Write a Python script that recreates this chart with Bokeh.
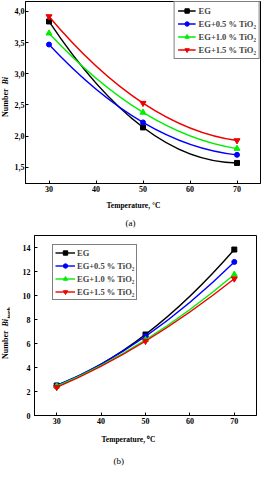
import numpy as np
from math import pi
from bokeh.plotting import figure
from bokeh.models import Range1d, FixedTicker, Label, Legend, LegendItem, Title
from bokeh.layouts import column, row
from bokeh.embed import file_html
from bokeh.resources import INLINE

# ---------------- data ----------------
temps = [30, 50, 70]
series_names = ["EG", "EG+0.5 % TiO\u2082", "EG+1.0 % TiO\u2082", "EG+1.5 % TiO\u2082"]
colors = ["#000000", "#0000ff", "#00ee00", "#ee0000"]
markers = ["square", "circle", "triangle", "inverted_triangle"]

bi_eg = [3.84, 2.14, 1.57]
bi_05 = [3.47, 2.22, 1.70]
bi_10 = [3.65, 2.38, 1.80]
bi_15 = [3.92, 2.53, 1.93]

biturb_eg = [2.50, 6.75, 13.83]
biturb_05 = [2.50, 6.60, 12.80]
biturb_10 = [2.45, 6.30, 11.75]
biturb_15 = [2.35, 6.20, 11.40]

x_ticks = [30, 40, 50, 60, 70]
y_ticks_a = [1.5, 2.0, 2.5, 3.0, 3.5, 4.0]
y_labels_a = ["1,5", "2,0", "2,5", "3,0", "3,5", "4,0"]
y_ticks_b = [0, 2, 4, 6, 8, 10, 12, 14]

SERIF = "Liberation Serif"
YW = 10  # width of the strip holding the rotated y title


def style_axes(p):
    for ax in (p.xaxis[0], p.yaxis[0]):
        ax.axis_line_color = "black"
        ax.major_tick_in = 3
        ax.major_tick_out = 0
        ax.minor_tick_in = 0
        ax.minor_tick_out = 0
        ax.major_tick_line_color = "black"
        ax.major_label_text_font = SERIF
        ax.major_label_text_font_style = "bold"
        ax.major_label_text_font_size = "8px"
        ax.major_label_text_color = "black"
        ax.major_label_standoff = 2
    p.xgrid.visible = False
    p.ygrid.visible = False
    p.outline_line_color = "black"
    p.outline_line_alpha = 1.0
    p.outline_line_width = 1
    p.background_fill_color = "white"
    p.border_fill_color = "white"


def add_series(p, xs, ys, color, marker, size):
    cx = 2 * xs[1] - (xs[0] + xs[2]) / 2
    cy = 2 * ys[1] - (ys[0] + ys[2]) / 2
    q = p.quadratic(x0=[xs[0]], y0=[ys[0]], x1=[xs[2]], y1=[ys[2]],
                    cx=[cx], cy=[cy], line_color=color, line_width=1.4)
    s = p.scatter(xs, ys, marker=marker, size=size, fill_color=color,
                  line_color=color)
    return [q, s]


def txt(p, x, y, text, size, style="bold", angle=0.0, align="center"):
    p.add_layout(Label(x=x, y=y, x_units="canvas", y_units="canvas", text=text,
                       angle=angle, text_align=align, text_baseline="middle",
                       text_font=SERIF, text_font_style=style,
                       text_font_size=size, text_color="black"))


def title_below(p, text, size, style, offset, standoff):
    p.add_layout(Title(text=text, align="left", offset=offset, standoff=standoff,
                       text_font=SERIF, text_font_style=style,
                       text_font_size=size, text_color="black"), "below")


def strip(h):
    s = figure(width=YW, height=h, output_backend="svg", toolbar_location=None,
               x_axis_type=None, y_axis_type=None, min_border=0,
               x_range=Range1d(0, 1), y_range=Range1d(0, 1))
    s.outline_line_color = None
    s.background_fill_color = "white"
    s.border_fill_color = "white"
    return s


# ---------------- chart (a) ----------------
p1 = figure(width=263 - YW, height=232, output_backend="svg", toolbar_location=None,
            x_range=Range1d(25, 75), y_range=Range1d(1.24, 4.16),
            min_border_left=25 - YW, min_border_right=3, min_border_top=1,
            min_border_bottom=49)
style_axes(p1)
p1.xaxis.ticker = FixedTicker(ticks=x_ticks)
p1.yaxis.ticker = FixedTicker(ticks=y_ticks_a)
p1.yaxis.major_label_overrides = dict(zip(y_ticks_a, y_labels_a))
p1.yaxis.major_label_standoff = 1

items = []
for name, ys, c, m in zip(series_names, [bi_eg, bi_05, bi_10, bi_15], colors, markers):
    r = add_series(p1, temps, ys, c, m, 6 if "triangle" in m else 5)
    items.append(LegendItem(label=name, renderers=r))
leg1 = Legend(items=items, location="top_right", margin=0, padding=3, spacing=2,
              glyph_width=18, glyph_height=11, label_height=11, label_standoff=3,
              label_text_font=SERIF, label_text_font_style="bold",
              label_text_font_size="8.5px", border_line_color="black",
              border_line_width=1, background_fill_alpha=1.0)
p1.add_layout(leg1)
title_below(p1, "Temperature, \u00b0C", "7.5px", "bold", 81, 8)
title_below(p1, "(a)", "9px", "normal", 100, 4)

s1 = strip(232)
txt(s1, 5, 86, "Number ", "8px", angle=pi / 2, align="right")
txt(s1, 5, 84, "Bi", "8px", style="bold italic", angle=pi / 2, align="left")

# ---------------- chart (b) ----------------
p2 = figure(width=263 - YW, height=238, output_backend="svg", toolbar_location=None,
            x_range=Range1d(25, 75), y_range=Range1d(0, 15),
            min_border_left=34 - YW, min_border_right=7, min_border_top=3,
            min_border_bottom=55)
style_axes(p2)
p2.xaxis.ticker = FixedTicker(ticks=x_ticks)
p2.yaxis.ticker = FixedTicker(ticks=y_ticks_b)
p2.yaxis.major_label_standoff = 4

items2 = []
for name, ys, c, m in zip(series_names, [biturb_eg, biturb_05, biturb_10, biturb_15], colors, markers):
    r = add_series(p2, temps, ys, c, m, 6 if "triangle" in m else 5)
    items2.append(LegendItem(label=name, renderers=r))
leg2 = Legend(items=items2, location=(18, 115), margin=0, padding=2, spacing=2,
              glyph_width=20, glyph_height=11, label_height=11, label_standoff=2,
              label_text_font=SERIF, label_text_font_style="bold",
              label_text_font_size="8.5px", border_line_color="black",
              border_line_width=1, background_fill_alpha=1.0)
p2.add_layout(leg2)
title_below(p2, "Temperature, \u2070C", "7.5px", "bold", 67, 13)
title_below(p2, "(b)", "9px", "normal", 79, 6)

s2 = strip(238)
txt(s2, 4.5, 96, "Number ", "8px", angle=pi / 2, align="right")
txt(s2, 4.5, 94, "Bi", "8px", style="bold italic", angle=pi / 2, align="left")
txt(s2, 7.5, 86, "turb", "6.5px", style="bold italic", angle=pi / 2, align="left")

layout = column(row(s1, p1), row(s2, p2))
open("out.html", "w").write(file_html(layout, INLINE))
